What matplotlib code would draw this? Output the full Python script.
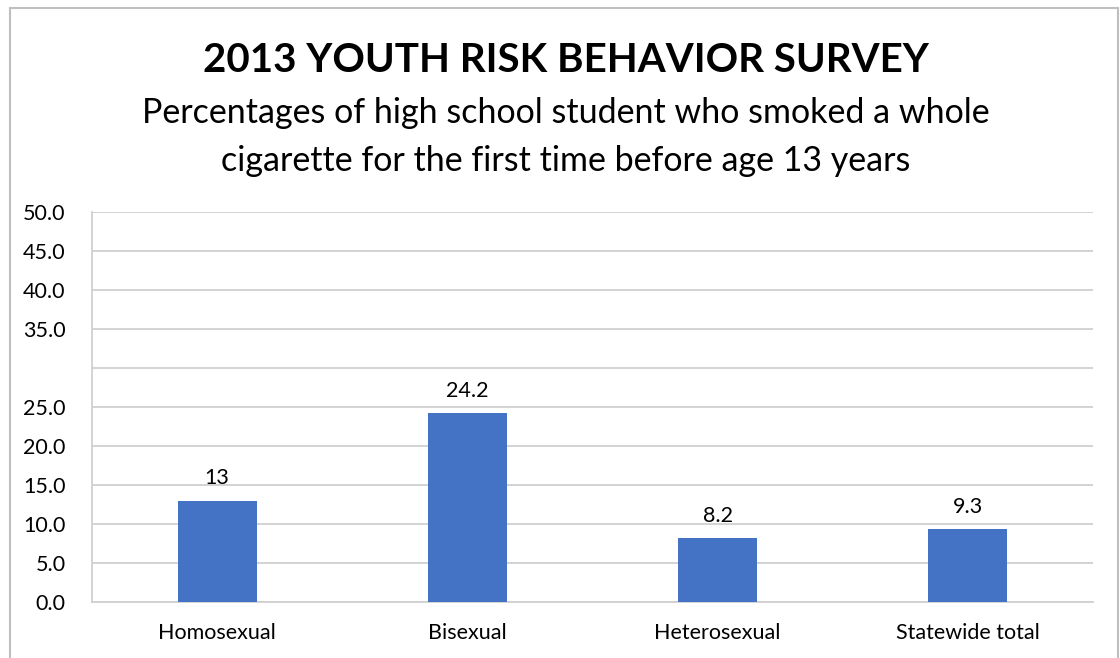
import matplotlib
matplotlib.use("Agg")
import matplotlib.pyplot as plt
from matplotlib.patches import Rectangle

categories = ["Homosexual", "Bisexual", "Heterosexual", "Statewide total"]
values = [13, 24.2, 8.2, 9.3]
value_labels = ["13", "24.2", "8.2", "9.3"]
yticks = [0, 5, 10, 15, 20, 25, 30, 35, 40, 45, 50]
ytick_labels = ["0.0", "5.0", "10.0", "15.0", "20.0", "25.0", "", "35.0", "40.0", "45.0", "50.0"]
title = "2013 YOUTH RISK BEHAVIOR SURVEY"
subtitle = "Percentages of high school student who smoked a whole\ncigarette for the first time before age 13 years"

plt.rcParams['font.family'] = ['Lato', 'DejaVu Sans']

W, H = 1120, 658
fig = plt.figure(figsize=(W / 100, H / 100), dpi=100)

# outer chart border
fig.patches.append(Rectangle((10 / W, -0.01), (1118 - 10) / W, (H - 8) / H + 0.01,
                             transform=fig.transFigure, fill=False,
                             edgecolor="#bfbfbf", linewidth=1.5))

left, right, top, bottom = 92, 1093, 212, 602
ax = fig.add_axes([left / W, 1 - bottom / H, (right - left) / W, (bottom - top) / H])

x = list(range(len(categories)))
ax.bar(x, values, width=0.316, color="#4472c4", zorder=3)
for xi, v, lab in zip(x, values, value_labels):
    ax.annotate(lab, (xi, v), xytext=(0, 9), textcoords="offset points",
                ha="center", va="bottom", fontsize=15.5, color="#000000")

ax.set_xlim(-0.5, len(categories) - 0.5)
ax.set_ylim(0, 50)
ax.set_yticks(yticks)
ax.set_yticklabels(ytick_labels, fontsize=15.5)
ax.set_xticks(x)
ax.set_xticklabels(categories, fontsize=15.5)
ax.tick_params(axis="both", length=0, colors="#000000")
ax.tick_params(axis="y", pad=19)
ax.tick_params(axis="x", pad=15)
ax.grid(axis="y", color="#d0d0d0", linewidth=1.3, zorder=0)
for s in ["top", "right"]:
    ax.spines[s].set_visible(False)
ax.spines["left"].set_color("#d0d0d0")
ax.spines["bottom"].set_color("#d0d0d0")
ax.spines["left"].set_linewidth(1.3)
ax.spines["bottom"].set_linewidth(1.3)

fig.text(566 / W, 1 - 61 / H, title, ha="center", va="center",
         fontsize=29, fontweight="bold")
fig.text(566 / W, 1 - 137 / H, subtitle, ha="center", va="center",
         fontsize=24.5, linespacing=1.6)

fig.savefig("out.png", dpi=100)
